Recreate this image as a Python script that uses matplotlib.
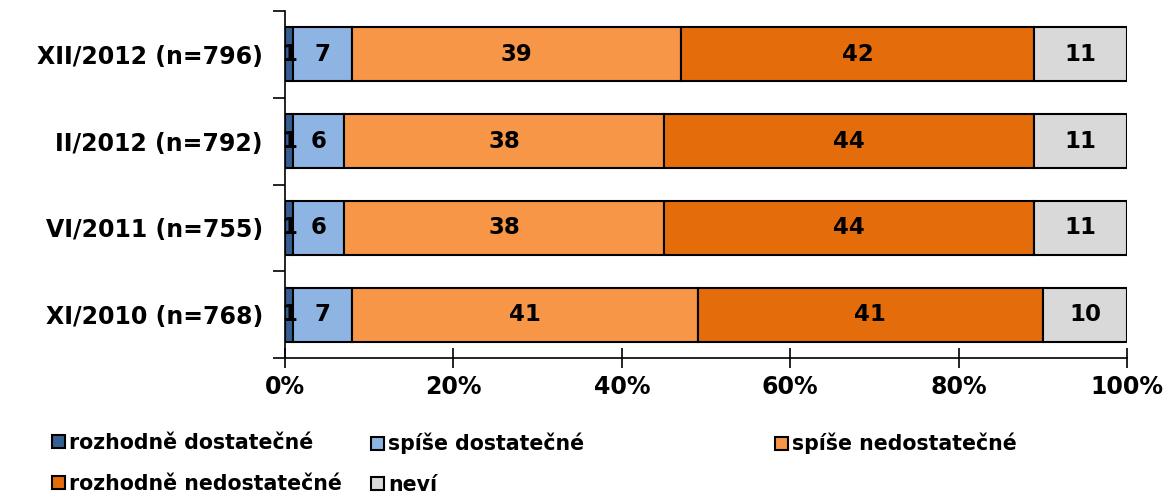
import matplotlib
matplotlib.use("Agg")
import matplotlib.pyplot as plt
import numpy as np

categories = ["XII/2012 (n=796)", "II/2012 (n=792)", "VI/2011 (n=755)", "XI/2010 (n=768)"]
series_names = ["rozhodně dostatečné", "spíše dostatečné", "spíše nedostatečné",
                "rozhodně nedostatečné", "neví"]
values = {
    "rozhodně dostatečné": [1, 1, 1, 1],
    "spíše dostatečné": [7, 6, 6, 7],
    "spíše nedostatečné": [39, 38, 38, 41],
    "rozhodně nedostatečné": [42, 44, 44, 41],
    "neví": [11, 11, 11, 10],
}
colors = ["#365F91", "#8EB4E3", "#F79646", "#E46C0A", "#D9D9D9"]
xticks = [0, 20, 40, 60, 80, 100]

plt.rcParams['font.family'] = ['DejaVu Sans']
fig = plt.figure(figsize=(11.75, 4.96), dpi=100)
ax = fig.add_axes([285/1175, 1 - 358/496, (1127-285)/1175, (358-11)/496])

y = np.arange(len(categories))
left = np.zeros(len(categories))
handles = []
for name, col in zip(series_names, colors):
    v = np.array(values[name], dtype=float)
    bars = ax.barh(y, v, left=left, height=0.62, color=col, edgecolor="black",
                   linewidth=1.5, label=name)
    handles.append(bars)
    for yi, (l, w) in enumerate(zip(left, v)):
        ax.text(l + w / 2, yi, f"{int(w)}", ha="center", va="center",
                fontsize=16.5, fontweight="bold", color="black")
    left += v

ax.set_xlim(0, 100)
ax.set_ylim(len(categories) - 0.5, -0.5)
ax.set_xticks(xticks)
ax.set_xticklabels([f"{t}%" for t in xticks], fontsize=17, fontweight="bold")
ax.tick_params(axis="x", direction="inout", length=14, width=1.2, pad=5)
ax.set_yticks(y)
ax.set_yticklabels(categories, fontsize=17, fontweight="bold")
ax.tick_params(axis="y", which="major", length=0, pad=16)
ax.set_yticks(np.arange(-0.5, len(categories)), minor=True)
ax.tick_params(axis="y", which="minor", direction="out", length=9, width=1.2)
for s in ["top", "right"]:
    ax.spines[s].set_visible(False)
for s in ["left", "bottom"]:
    ax.spines[s].set_linewidth(1.2)

leg_kw = dict(frameon=False, prop={"size": 14.8, "weight": "bold"}, handlelength=0.62,
              handleheight=0.62, handletextpad=0.22, labelspacing=1.0,
              borderaxespad=0, borderpad=0)
cols = [[0, 3], [1, 4], [2]]
xpos = [52/1175, 371/1175, 775/1175]
for c, xp in zip(cols, xpos):
    fig.legend([handles[i] for i in c], [series_names[i] for i in c],
               loc="upper left", bbox_to_anchor=(xp, 1 - 433/496), **leg_kw)

fig.savefig("out.png", dpi=100)
